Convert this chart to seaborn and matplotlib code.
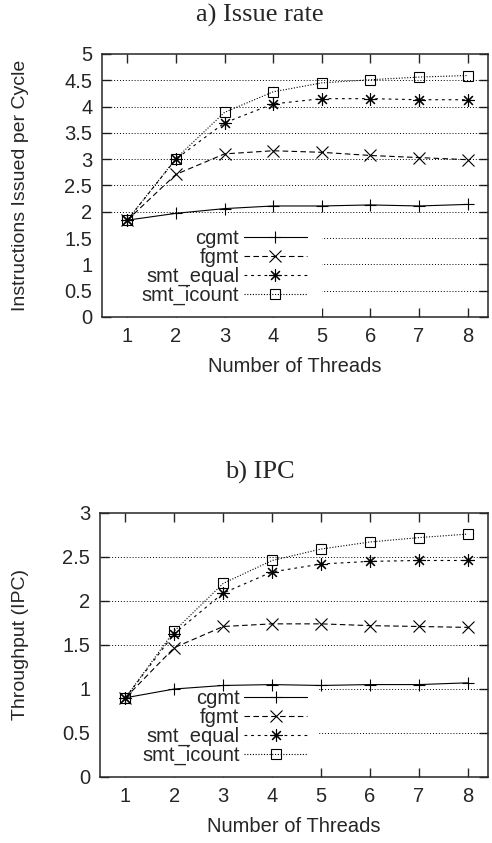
import numpy as np
import pandas as pd
import matplotlib
matplotlib.use("Agg")
import matplotlib.pyplot as plt
from matplotlib.patches import Rectangle
import seaborn as sns

threads = [1, 2, 3, 4, 5, 6, 7, 8]
series = ["cgmt", "fgmt", "smt_equal", "smt_icount"]

# a) issue rate
issue_cgmt = [1.84, 1.97, 2.06, 2.11, 2.11, 2.13, 2.11, 2.14]
issue_fgmt = [1.84, 2.71, 3.10, 3.16, 3.13, 3.07, 3.03, 2.99]
issue_equal = [1.84, 3.00, 3.69, 4.05, 4.15, 4.15, 4.13, 4.13]
issue_icount = [1.84, 3.01, 3.89, 4.28, 4.45, 4.51, 4.56, 4.59]

# b) IPC
ipc_cgmt = [0.90, 1.00, 1.04, 1.05, 1.04, 1.05, 1.05, 1.07]
ipc_fgmt = [0.90, 1.47, 1.71, 1.74, 1.74, 1.72, 1.71, 1.70]
ipc_equal = [0.90, 1.63, 2.09, 2.33, 2.42, 2.45, 2.46, 2.46]
ipc_icount = [0.90, 1.66, 2.20, 2.46, 2.59, 2.67, 2.72, 2.76]

sns.set_style("ticks")
plt.rcParams["font.family"] = ["Liberation Sans", "DejaVu Sans"]

markers = {"cgmt": "+", "fgmt": "x", "smt_equal": (8, 2, 0), "smt_icount": "s"}
dashes = {"cgmt": "-", "fgmt": (0, (5, 3)), "smt_equal": (0, (2.5, 3.5)),
          "smt_icount": (0, (1, 1.5))}
msize = {"cgmt": 9, "fgmt": 8, "smt_equal": 9, "smt_icount": 7}

fig = plt.figure(figsize=(4.92, 8.43), dpi=100)
ax1 = fig.add_axes([0.2073, 0.624, 0.7846, 0.312])
ax2 = fig.add_axes([0.2033, 0.0783, 0.789, 0.3132])


def draw(ax, vals, ymax, ylabel, ylab_x, leg_x, gap_w):
    for name, v in zip(series, vals):
        df = pd.DataFrame({"threads": threads, "value": v})
        sns.lineplot(data=df, x="threads", y="value", ax=ax, color="black",
                     linestyle=dashes[name], linewidth=0.8, marker=markers[name],
                     markersize=msize[name], markeredgecolor="black",
                     markerfacecolor="none", markeredgewidth=0.8,
                     label=name, zorder=3)
    ax.set_xlim(0.48, 8.42)
    ax.set_ylim(0, ymax)
    ax.set_xticks(threads)
    yt = np.arange(0, ymax + 1e-9, 0.5)
    ax.set_yticks(yt)
    ax.set_yticklabels([f"{v:g}" for v in yt])
    for v in yt[1:-1]:
        ax.axhline(v, color="black", linestyle=(0, (1, 2)), linewidth=0.7, zorder=1)
    # blank area behind the key, as gnuplot does
    ax.add_patch(Rectangle((0, 0), gap_w, 0.38, transform=ax.transAxes,
                           facecolor="white", edgecolor="none", zorder=1.5))
    ax.tick_params(direction="in", length=6.5, width=1, top=True, right=True,
                   labelsize=14.5, pad=7)
    for sp in ax.spines.values():
        sp.set_linewidth(1.1)
    ax.set_xlabel("Number of Threads", fontsize=14.5)
    ax.xaxis.set_label_coords(0.5, -0.152)
    ax.set_ylabel(ylabel, fontsize=14)
    ax.yaxis.set_label_coords(ylab_x, 0.5)
    leg = ax.legend(loc="lower right", bbox_to_anchor=(leg_x, 0.044),
                    markerfirst=False, fontsize=14.5, handlelength=3.1,
                    labelspacing=0.0, handletextpad=0.25, borderpad=0,
                    borderaxespad=0, frameon=False)
    leg.set_zorder(2)


draw(ax1, [issue_cgmt, issue_fgmt, issue_equal, issue_icount], 5,
     "Instructions Issued per Cycle", -0.189, 0.53, 0.571)
draw(ax2, [ipc_cgmt, ipc_fgmt, ipc_equal, ipc_icount], 3,
     "Throughput (IPC)", -0.183, 0.533, 0.562)

fig.text(0.528, 0.982, "a) Issue rate", fontfamily="Liberation Serif",
         fontsize=19, ha="center", va="center")
fig.text(0.528, 0.439, "b) IPC", fontfamily="Liberation Serif",
         fontsize=19, ha="center", va="center")

fig.savefig("out.png", dpi=100)
